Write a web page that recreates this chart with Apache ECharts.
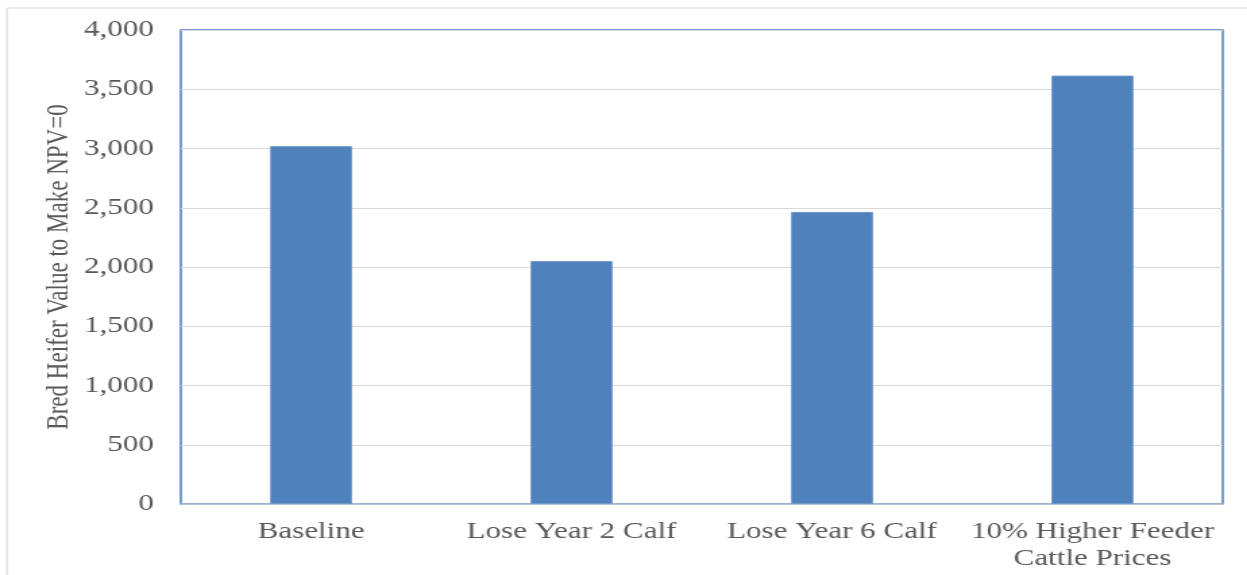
<!DOCTYPE html>
<html>
<head>
<meta charset="utf-8">
<script src="https://cdn.jsdelivr.net/npm/echarts@6/dist/echarts.min.js"></script>
<style>
  html, body { margin: 0; padding: 0; background: #fff; overflow: hidden; }
  #wrap { width: 1247px; height: 575px; overflow: hidden; position: relative; }
  /* chart is laid out narrow and widened horizontally */
  #chart { width: 924px; height: 575px; transform-origin: 0 0; transform: scaleX(1.3496); }
</style>
</head>
<body>
<div id="wrap"><div id="chart"></div></div>
<script>
const categories = ['Baseline', 'Lose Year 2 Calf', 'Lose Year 6 Calf', '10% Higher Feeder\nCattle Prices'];
const heiferValues = [3020, 2050, 2465, 3615];
const yTicks = { min: 0, max: 4000, interval: 500 };
const yAxisTitle = 'Bred Heifer Value to Make NPV=0';

const serif = '"Liberation Serif", "Times New Roman", serif';
const chart = echarts.init(document.getElementById('chart'), null, { renderer: 'canvas' });

chart.setOption({
  backgroundColor: '#ffffff',
  animation: false,
  graphic: [{
    type: 'rect',
    shape: { x: 5.2, y: 8, width: 1000, height: 600 },
    style: { fill: 'none', stroke: '#d9d9d9', lineWidth: 1 },
    silent: true
  }],
  grid: {
    left: 134, right: 18, top: 30, bottom: 71,
    show: true, borderColor: '#4a7cc0', borderWidth: 1.5, backgroundColor: 'transparent'
  },
  xAxis: {
    type: 'category',
    data: categories,
    axisLine: { show: true, lineStyle: { color: '#a9bbd4', width: 1.5 } },
    axisTick: { show: false },
    axisLabel: {
      interval: 0, margin: 14,
      fontFamily: serif, fontSize: 23, color: '#595959', lineHeight: 27
    }
  },
  yAxis: {
    type: 'value',
    min: yTicks.min, max: yTicks.max, interval: yTicks.interval,
    name: yAxisTitle,
    nameLocation: 'middle',
    nameGap: 79,
    nameMoveOverlap: false,
    nameRotate: 90,
    nameTextStyle: { fontFamily: serif, fontSize: 23, color: '#595959' },
    axisLine: { show: false },
    axisTick: { show: false },
    splitLine: { lineStyle: { color: '#d9d9d9', width: 1 } },
    axisLabel: {
      margin: 20,
      fontFamily: serif, fontSize: 23, color: '#595959',
      formatter: v => v.toLocaleString('en-US')
    }
  },
  series: [{
    type: 'bar',
    data: heiferValues,
    barWidth: '31.5%',
    itemStyle: { color: '#4f81bd', borderColor: '#6f98cb', borderWidth: 1 }
  }]
});
</script>
</body>
</html>
